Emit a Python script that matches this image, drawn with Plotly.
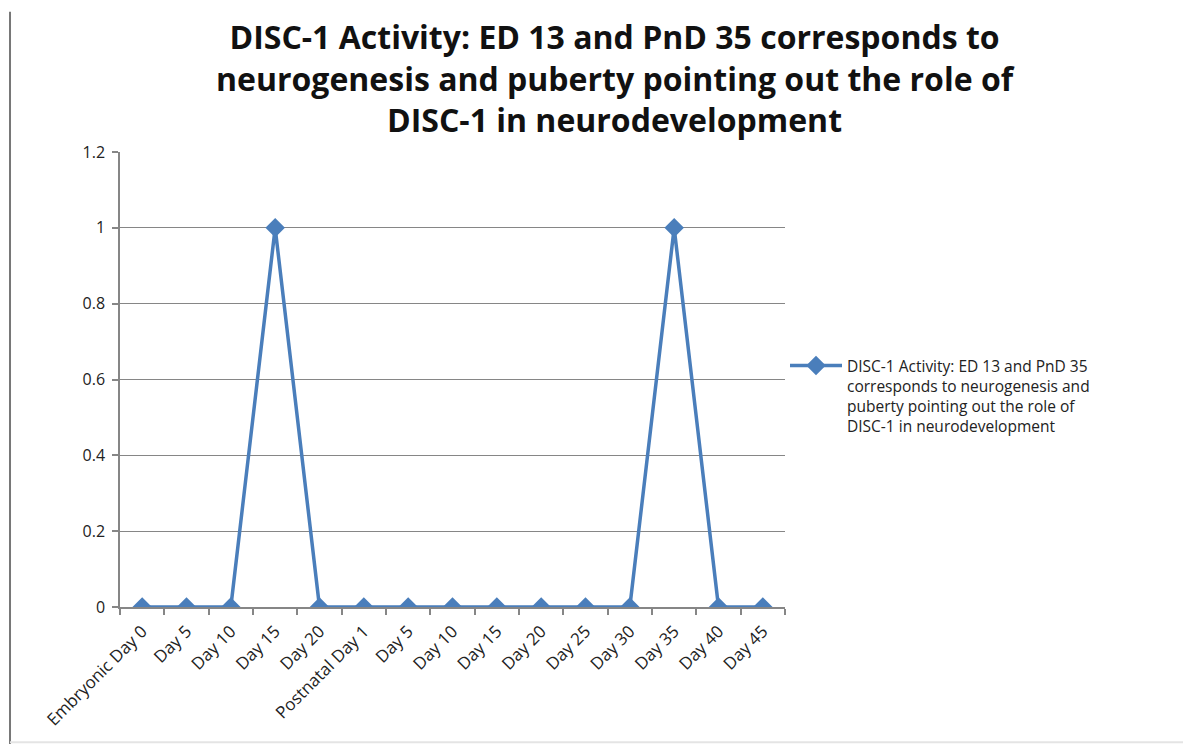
import plotly.graph_objects as go

tick_labels = ["Embryonic Day 0", "Day 5", "Day 10", "Day 15", "Day 20",
               "Postnatal Day 1", "Day 5", "Day 10", "Day 15", "Day 20",
               "Day 25", "Day 30", "Day 35", "Day 40", "Day 45"]
values = [0, 0, 0, 1, 0, 0, 0, 0, 0, 0, 0, 0, 1, 0, 0]
series_name = ("DISC-1 Activity: ED 13 and PnD 35<br>corresponds to neurogenesis and<br>"
               "puberty pointing out the role of<br>DISC-1 in neurodevelopment")
title_text = ("<b>DISC-1 Activity: ED 13 and PnD 35 corresponds to<br>"
              "neurogenesis and puberty pointing out the role of<br>"
              "DISC-1 in neurodevelopment</b>")

# make repeated labels distinct categories (zero-width suffix for the postnatal part)
categories = []
seen = {}
for lab in tick_labels:
    n = seen.get(lab, 0)
    categories.append(lab + "\u200b" * n)
    seen[lab] = n + 1

FONT = "Open Sans"
BLUE = "#4A7EBB"
GRAY = "#868686"

fig = go.Figure()
fig.add_trace(go.Scatter(
    x=categories, y=values, mode="lines+markers",
    name=series_name,
    line=dict(color=BLUE, width=3.5),
    marker=dict(symbol="diamond", size=15, color=BLUE),
    showlegend=True,
))

fig.update_layout(
    width=1183, height=736,
    margin=dict(l=112, r=406, t=144, b=137),
    paper_bgcolor="white", plot_bgcolor="white",
    font=dict(family=FONT, color="#222222"),
    showlegend=True,
    legend=dict(x=1.0, y=0.567, xanchor="left", yanchor="top", valign="top",
                font=dict(family=FONT, size=15.5, color="#222222"),
                itemwidth=52, tracegroupgap=0, bgcolor="rgba(0,0,0,0)"),
    xaxis=dict(
        type="category", categoryorder="array", categoryarray=categories,
        range=[-0.5, len(categories) - 0.5],
        tickson="boundaries",
        tickangle=-45, showgrid=False, zeroline=False,
        showline=True, linecolor=GRAY, linewidth=1.5,
        ticks="outside", ticklen=6, tickcolor=GRAY, tickwidth=1.5,
        ticklabelstandoff=6,
        tickfont=dict(family=FONT, size=17, color="#222222"),
    ),
    yaxis=dict(
        range=[0, 1.2], dtick=0.2,
        showgrid=True, gridcolor=GRAY, gridwidth=1, zeroline=False,
        showline=True, linecolor=GRAY, linewidth=1.5,
        ticks="outside", ticklen=6, tickcolor=GRAY, tickwidth=1.5,
        ticklabelstandoff=4,
        tickfont=dict(family=FONT, size=16, color="#222222"),
    ),
    annotations=[dict(
        text=title_text, xref="paper", yref="paper",
        x=0.745, y=1.162, xanchor="center", yanchor="middle",
        showarrow=False, align="center",
        font=dict(family=FONT, size=32, color="#111111"),
    )],
)

# outer chart border on the left and faint border at the bottom
fig.add_shape(type="line", xref="paper", yref="paper",
              x0=-0.1654, x1=-0.1654, y0=-0.31, y1=1.308,
              line=dict(color="#777777", width=2))
fig.add_shape(type="line", xref="paper", yref="paper",
              x0=-0.1654, x1=1.61, y0=-0.297, y1=-0.297,
              line=dict(color="#e4e4e4", width=2))

fig.write_html("out.html")
